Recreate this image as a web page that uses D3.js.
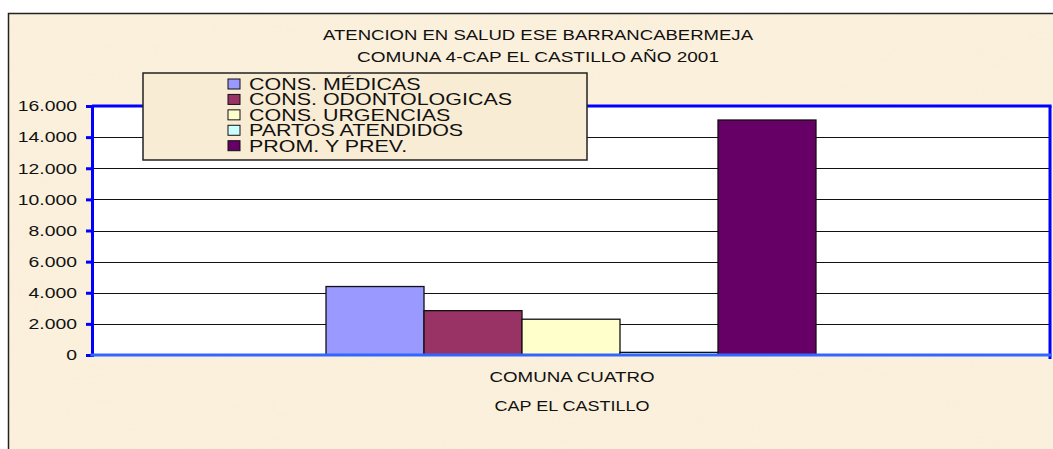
<!DOCTYPE html>
<html>
<head>
<meta charset="utf-8">
<script src="https://cdn.jsdelivr.net/npm/d3@7"></script>
<style>
  html, body { margin: 0; padding: 0; background: #ffffff; }
  svg { display: block; font-family: Arial, "Liberation Sans", sans-serif; }
</style>
</head>
<body>
<svg id="chart" width="1053" height="449"></svg>
<script>
// ---- data ----
const titleLines = ["ATENCION EN SALUD ESE BARRANCABERMEJA", "COMUNA 4-CAP EL CASTILLO AÑO 2001"];
const categories = ["COMUNA CUATRO"];
const categoryLines = ["COMUNA CUATRO", "CAP EL CASTILLO"];
const seriesNames = ["CONS. MÉDICAS", "CONS. ODONTOLOGICAS", "CONS. URGENCIAS", "PARTOS ATENDIDOS", "PROM. Y PREV."];
const seriesValues = [4400, 2850, 2300, 170, 15100];
const seriesColors = ["#9999FF", "#993366", "#FFFFCC", "#CCFFFF", "#660066"];
const yTicks = [0, 2000, 4000, 6000, 8000, 10000, 12000, 14000, 16000];
const yTickLabels = ["0", "2.000", "4.000", "6.000", "8.000", "10.000", "12.000", "14.000", "16.000"];

// ---- layout ----
const svg = d3.select("#chart");
const plot = { left: 92, right: 1050, top: 106, bottom: 355 };

// background texture
const defs = svg.append("defs");
const f = defs.append("filter").attr("id", "parch").attr("x", 0).attr("y", 0).attr("width", "100%").attr("height", "100%");
f.append("feTurbulence").attr("type", "fractalNoise").attr("baseFrequency", "0.012 0.03").attr("numOctaves", 3).attr("seed", 7).attr("result", "n");
f.append("feColorMatrix").attr("in", "n").attr("type", "matrix")
  .attr("values", "0 0 0 0 0.93  0 0 0 0 0.86  0 0 0 0 0.70  0 0 0 -1.6 1.05").attr("result", "c");
f.append("feComposite").attr("in", "c").attr("in2", "SourceGraphic").attr("operator", "in");

svg.append("rect").attr("x", 8).attr("y", 13).attr("width", 1100).attr("height", 500).attr("fill", "#FBF0DC");
svg.append("rect").attr("x", 8).attr("y", 13).attr("width", 1100).attr("height", 500).attr("fill", "#F6E6C6").attr("filter", "url(#parch)").attr("opacity", 0.55);
svg.append("rect").attr("x", 8.5).attr("y", 13.5).attr("width", 1100).attr("height", 500)
  .attr("fill", "none").attr("stroke", "#222").attr("stroke-width", 1.5);

// scales
const y = d3.scaleLinear().domain([0, 16000]).range([plot.bottom, plot.top]);
const x0 = d3.scaleBand().domain(categories).range([plot.left, plot.right]).paddingInner(0).paddingOuter(0.4776);
const x1 = d3.scaleBand().domain(seriesNames).range([0, x0.bandwidth()]).padding(0);

// plot area
svg.append("rect").attr("x", plot.left).attr("y", plot.top).attr("width", plot.right - plot.left).attr("height", plot.bottom - plot.top).attr("fill", "#ffffff");

// gridlines
svg.append("g").selectAll("line").data(yTicks.filter(t => t > 0 && t < 16000)).join("line")
  .attr("x1", plot.left).attr("x2", plot.right)
  .attr("y1", d => Math.round(y(d)) + 0.5).attr("y2", d => Math.round(y(d)) + 0.5)
  .attr("stroke", "#111").attr("stroke-width", 1.2);

// bars
const g = svg.append("g").attr("transform", `translate(${x0(categories[0])},0)`);
g.selectAll("rect").data(seriesNames.map((s, i) => ({ s, v: seriesValues[i], c: seriesColors[i] }))).join("rect")
  .attr("x", d => x1(d.s)).attr("width", x1.bandwidth())
  .attr("y", d => y(d.v)).attr("height", d => y(0) - y(d.v))
  .attr("fill", d => d.c).attr("stroke", "#111").attr("stroke-width", 1.3);

// plot border (blue)
svg.append("line").attr("x1", plot.left).attr("x2", plot.right + 1.5).attr("y1", plot.top).attr("y2", plot.top).attr("stroke", "#0000FF").attr("stroke-width", 3);
svg.append("line").attr("x1", plot.right).attr("x2", plot.right).attr("y1", plot.top).attr("y2", plot.bottom + 4).attr("stroke", "#0000FF").attr("stroke-width", 3);

// y axis
const yAxis = d3.axisLeft(y).tickValues(yTicks).tickFormat((d, i) => yTickLabels[i]).tickSize(6).tickPadding(9);
const ya = svg.append("g").attr("transform", `translate(${plot.left},0)`).call(yAxis);
ya.select(".domain").attr("stroke", "#0000FF").attr("stroke-width", 3);
ya.selectAll(".tick line").attr("stroke", "#0000FF").attr("stroke-width", 3);
ya.selectAll(".tick text").attr("fill", "#111").attr("font-size", 15).attr("font-family", "Arial, 'Liberation Sans', sans-serif");

// x axis line
svg.append("line").attr("x1", plot.left - 1.5).attr("x2", plot.right + 1.5).attr("y1", plot.bottom).attr("y2", plot.bottom).attr("stroke", "#3366FF").attr("stroke-width", 3);

// stretch y labels horizontally
ya.selectAll(".tick text").each(function () {
  const w = this.getComputedTextLength();
  d3.select(this).attr("textLength", w * 1.29).attr("lengthAdjust", "spacingAndGlyphs");
});

// category labels
const catY = [382, 411];
const catW = [165, 155];
svg.append("g").selectAll("text").data(categoryLines).join("text")
  .attr("x", x0(categories[0]) + x0.bandwidth() / 2 + 1).attr("y", (d, i) => catY[i])
  .attr("text-anchor", "middle").attr("font-size", 14).attr("fill", "#111")
  .attr("textLength", (d, i) => catW[i]).attr("lengthAdjust", "spacingAndGlyphs")
  .text(d => d);

// title
const titleY = [40, 61.5];
const titleW = [430, 362];
svg.append("g").selectAll("text").data(titleLines).join("text")
  .attr("x", 538).attr("y", (d, i) => titleY[i])
  .attr("text-anchor", "middle").attr("font-size", 14).attr("fill", "#111")
  .attr("textLength", (d, i) => titleW[i]).attr("lengthAdjust", "spacingAndGlyphs")
  .text(d => d);

// legend
const lg = svg.append("g");
lg.append("rect").attr("x", 143).attr("y", 73).attr("width", 444).attr("height", 87)
  .attr("fill", "#F9ECD4").attr("stroke", "#222").attr("stroke-width", 1.5);
const rowY = d3.scalePoint().domain(seriesNames).range([84, 145.7]);
const items = lg.selectAll("g.item").data(seriesNames).join("g").attr("class", "item");
items.append("rect").attr("x", 228).attr("y", d => rowY(d) - 5).attr("width", 12).attr("height", 10)
  .attr("fill", (d, i) => seriesColors[i]).attr("stroke", "#111").attr("stroke-width", 1);
const lt = items.append("text").attr("x", 249).attr("y", d => rowY(d) + 5.8)
  .attr("font-size", 16.5).attr("fill", "#111").text(d => d);
let natural = 0;
lt.each(function (d) { if (d === "CONS. ODONTOLOGICAS") natural = this.getComputedTextLength(); });
const sx = 263 / natural;
lt.each(function () {
  const w = this.getComputedTextLength();
  d3.select(this).attr("textLength", w * sx).attr("lengthAdjust", "spacingAndGlyphs");
});
</script>
</body>
</html>
